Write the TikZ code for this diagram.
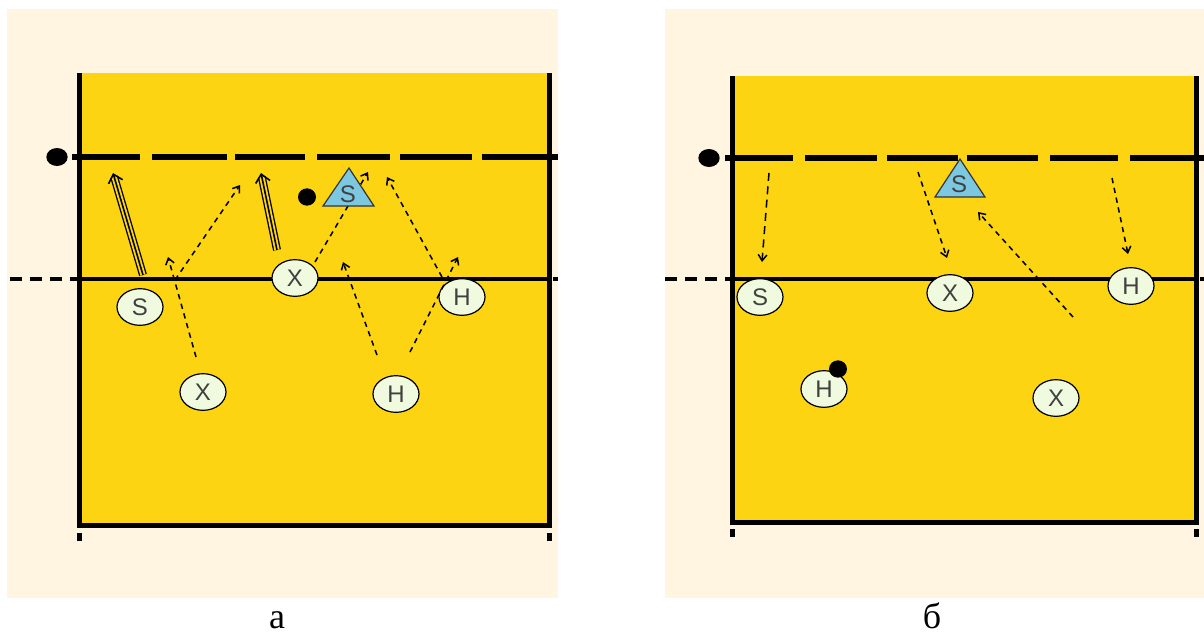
\documentclass[tikz,border=0pt]{standalone}
\usepackage{fontspec}
\setmainfont{Liberation Serif}
\newfontfamily\plfont{Liberation Sans}
\usetikzlibrary{arrows.meta,shapes.geometric}
\definecolor{cream}{RGB}{255,245,225}
\definecolor{courty}{RGB}{252,212,18}
\definecolor{plfill}{RGB}{240,250,222}
\definecolor{trifill}{RGB}{125,200,225}
\tikzset{
  player/.style={ellipse, draw=black, line width=0.9pt, fill=plfill,
    minimum width=34.5pt, minimum height=27.5pt, inner sep=0pt,
    font=\plfont\fontsize{18}{18}\selectfont, text=black!75},
  ballnode/.style={ellipse, fill=black, minimum width=13.5pt, minimum height=13pt, inner sep=0pt},
  courtline/.style={line width=3.75pt, line join=miter, black},
  netline/.style={line width=4.6pt, black},
  attline/.style={line width=2.8pt, black},
  attdash/.style={line width=2.8pt, black, dash pattern=on 9pt off 6pt},
  darr/.style={line width=1.15pt, black, dash pattern=on 4pt off 3.5pt,
    -{Straight Barb[length=4.5pt,width=6.5pt]}},
  tripleA/.style={line width=6pt, black, shorten >=3pt},
  tripleB/.style={line width=4pt, courty, shorten >=3pt},
  tripleC/.style={line width=1.2pt, black, -{Straight Barb[length=6pt,width=11pt]}},
  tri/.style={fill=trifill, draw=black!80, line width=0.9pt, line join=miter},
  trilabel/.style={font=\plfont\fontsize{18}{18}\selectfont, text=black!75, inner sep=0pt},
  panellabel/.style={font=\fontsize{27}{29}\selectfont, inner sep=0pt, anchor=base}
}
\begin{document}
\begin{tikzpicture}[x=0.75pt,y=-0.75pt]
\useasboundingbox (0,0) rectangle (1204,636);
\fill[white] (0,0) rectangle (1204,636);
% ---------------- panel a ----------------
\fill[cream] (7,9) rectangle (558,598);
\fill[courty] (79,73) rectangle (549,525);
\draw[courtline] (79,73) -- (79,525) -- (549,525) -- (549,73);
\fill (76.5,533) rectangle (81.5,541);
\fill (547,533) rectangle (552,541);
% attack line
\draw[attline] (79,279) -- (549,279);
\draw[attdash] (10,279) -- (79,279);
\draw[attline] (553,279) -- (558,279);
% net
\foreach \a/\b in {72/140,152/227,235/305,317/390,400/472,482/558}
  \draw[netline] (\a,157) -- (\b,157);
\node[ballnode, minimum width=16pt, minimum height=13.5pt] (neta) at (57,157) {};
% players a
\node[player] (aS) at (140,307) {S};
\node[player] (aX1) at (295,278) {X};
\node[player] (aH1) at (462,297) {H};
\node[player] (aX2) at (203,392) {X};
\node[player] (aH2) at (396,394) {H};
% arrow coordinates a
\coordinate (t1s) at (143,275); \coordinate (t1e) at (113,173);
\coordinate (t2s) at (277,250); \coordinate (t2e) at (261,173);
\coordinate (d1s) at (196,357); \coordinate (d1e) at (168,257);
\coordinate (d2s) at (175,280); \coordinate (d2e) at (240,185);
\coordinate (d3s) at (315,262); \coordinate (d3e) at (368,172);
\coordinate (d4s) at (377,355); \coordinate (d4e) at (343,262);
\coordinate (d5s) at (410,352); \coordinate (d5e) at (458,257);
\coordinate (d6s) at (442,277); \coordinate (d6e) at (387,177);
% triple arrows
\foreach \s/\e in {t1s/t1e,t2s/t2e}{
  \draw[tripleA] (\s) -- (\e);
  \draw[tripleB] (\s) -- (\e);
  \draw[tripleC] (\s) -- (\e);
}
% dashed arrows
\draw[darr] (d1s) -- (d1e);
\draw[darr] (d2s) -- (d2e);
\draw[darr] (d3s) -- (d3e);
\draw[darr] (d4s) -- (d4e);
\draw[darr] (d5s) -- (d5e);
\draw[darr] (d6s) -- (d6e);
% setter triangle a
\draw[tri] (349,168) -- (374,206) -- (323,206) -- cycle;
\node[trilabel] (aT) at (348,194) {S};
% ball a
\node[ballnode] (balla) at (307,197) {};
\node[panellabel] (la) at (277,628) {а};
% ---------------- panel b ----------------
\fill[cream] (665,9) rectangle (1204,598);
\fill[courty] (732,76) rectangle (1196,522);
\draw[courtline] (732,76) -- (732,522) -- (1196,522) -- (1196,76);
\fill (729.5,529) rectangle (734.5,537);
\fill (1194,529) rectangle (1199,537);
\draw[attline] (732,279) -- (1196,279);
\draw[attdash] (665,279) -- (732,279);
\draw[attline] (1200,279) -- (1204,279);
\foreach \a/\b in {725/793,805/877,887/958,967/1038,1050/1118,1130/1204}
  \draw[netline] (\a,158) -- (\b,158);
\node[ballnode, minimum width=16pt, minimum height=13.5pt] (netb) at (709,158) {};
% players b
\node[player] (bS) at (760,297) {S};
\node[player] (bX1) at (950,293) {X};
\node[player] (bH1) at (1131,286) {H};
\node[player] (bH2) at (824,389) {H};
\node[player] (bX2) at (1056,398) {X};
\coordinate (e1s) at (769,173); \coordinate (e1e) at (762,262);
\coordinate (e2s) at (918,172); \coordinate (e2e) at (947,258);
\coordinate (e3s) at (1073,317); \coordinate (e3e) at (978,212);
\coordinate (e4s) at (1112,178); \coordinate (e4e) at (1128,254);
\draw[darr, dash pattern=on 6pt off 4pt] (e1s) -- (e1e);
\draw[darr] (e2s) -- (e2e);
\draw[darr] (e3s) -- (e3e);
\draw[darr] (e4s) -- (e4e);
\draw[tri] (960,159) -- (985,197) -- (935,197) -- cycle;
\node[trilabel] (bT) at (959,184) {S};
\node[ballnode] (ballb) at (838,369) {};
\node[panellabel] (lb) at (932,628) {б};
\end{tikzpicture}
\end{document}
